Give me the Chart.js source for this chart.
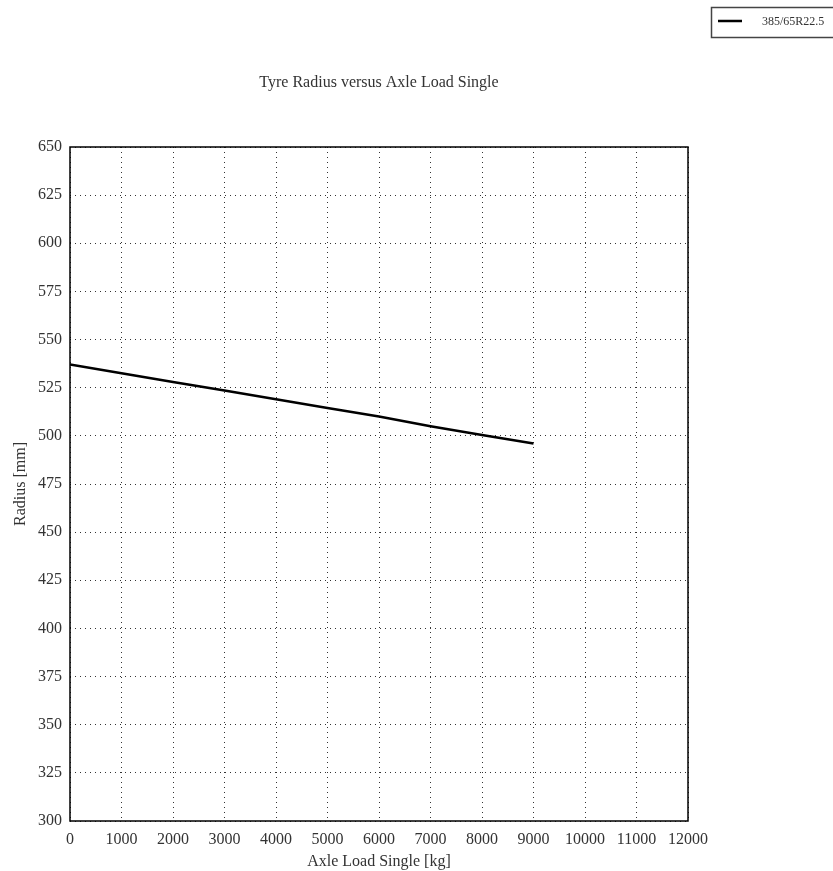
<!DOCTYPE html>
<html>
<head>
<meta charset="utf-8">
<script src="https://cdn.jsdelivr.net/npm/chart.js@4"></script>
<style>
  html, body { margin: 0; padding: 0; background: #ffffff; }
  #wrap { width: 833px; height: 871px; }
</style>
</head>
<body>
<div id="wrap"><canvas id="tyre-chart" width="833" height="871"></canvas></div>
<script>
// Data
const axleLoads = [0, 1000, 2000, 3000, 4000, 5000, 6000, 7000, 8000, 9000];
const radiusValues = [537, 532.5, 528, 523.5, 519, 514.5, 510, 505, 500.5, 496];
const seriesLabel = '385/65R22.5';
const chartTitle = 'Tyre Radius versus Axle Load Single';
const xTitle = 'Axle Load Single [kg]';
const yTitle = 'Radius [mm]';

const serif = '"Liberation Serif", "DejaVu Serif", serif';
const textColor = '#333';

// Frame, title and boxed legend drawn on the canvas
const framePlugin = {
    id: 'frame',
    afterDraw(chart) {
        const ctx = chart.ctx;
        const a = chart.chartArea;
        ctx.save();
        ctx.strokeStyle = '#000';
        ctx.lineWidth = 1.5;
        ctx.strokeRect(a.left, a.top, a.right - a.left, a.bottom - a.top);

        // title centred over the plot
        ctx.fillStyle = textColor;
        ctx.font = '16px ' + serif;
        ctx.textAlign = 'center';
        ctx.textBaseline = 'middle';
        ctx.fillText(chartTitle, (a.left + a.right) / 2, 83);

        // legend box top right
        const ds = chart.data.datasets[0];
        ctx.strokeStyle = '#444';
        ctx.lineWidth = 1.5;
        ctx.strokeRect(711.5, 7.5, 130, 30);
        ctx.strokeStyle = ds.borderColor;
        ctx.lineWidth = 2.5;
        ctx.beginPath();
        ctx.moveTo(718, 21);
        ctx.lineTo(742, 21);
        ctx.stroke();
        ctx.font = '12px ' + serif;
        ctx.textAlign = 'left';
        ctx.fillStyle = textColor;
        ctx.fillText(ds.label, 762, 22);
        ctx.restore();
    }
};

const ctx = document.getElementById('tyre-chart').getContext('2d');
new Chart(ctx, {
    type: 'line',
    data: {
        labels: axleLoads,
        datasets: [{
            label: seriesLabel,
            data: axleLoads.map((x, i) => ({ x: x, y: radiusValues[i] })),
            borderColor: '#000000',
            borderWidth: 2.5,
            pointRadius: 0,
            tension: 0,
            fill: false
        }]
    },
    options: {
        responsive: false,
        animation: false,
        devicePixelRatio: 1,
        layout: { padding: { top: 147, right: 145, bottom: 0, left: 0 } },
        plugins: {
            legend: { display: false },
            title: { display: false },
            tooltip: { enabled: false }
        },
        scales: {
            x: {
                type: 'linear',
                min: 0,
                max: 12000,
                afterFit: (scale) => { scale.height = 50; },
                ticks: {
                    stepSize: 1000,
                    padding: 9,
                    color: textColor,
                    font: { family: serif, size: 16 },
                    callback: (v) => String(v)
                },
                grid: {
                    color: '#333',
                    lineWidth: 1,
                    drawTicks: false
                },
                border: { display: false, dash: [1, 4] },
                title: {
                    display: true,
                    text: xTitle,
                    color: textColor,
                    font: { family: serif, size: 16 },
                    padding: { top: 0, bottom: 0 }
                }
            },
            y: {
                min: 300,
                max: 650,
                afterFit: (scale) => { scale.width = 70; },
                ticks: {
                    stepSize: 25,
                    padding: 8,
                    color: textColor,
                    font: { family: serif, size: 16 },
                    callback: (v) => String(v)
                },
                grid: {
                    color: '#333',
                    lineWidth: 1,
                    drawTicks: false
                },
                border: { display: false, dash: [1, 4] },
                title: {
                    display: true,
                    text: yTitle,
                    color: textColor,
                    font: { family: serif, size: 16 },
                    padding: { top: 11, bottom: 0 }
                }
            }
        }
    },
    plugins: [framePlugin]
});
</script>
</body>
</html>
